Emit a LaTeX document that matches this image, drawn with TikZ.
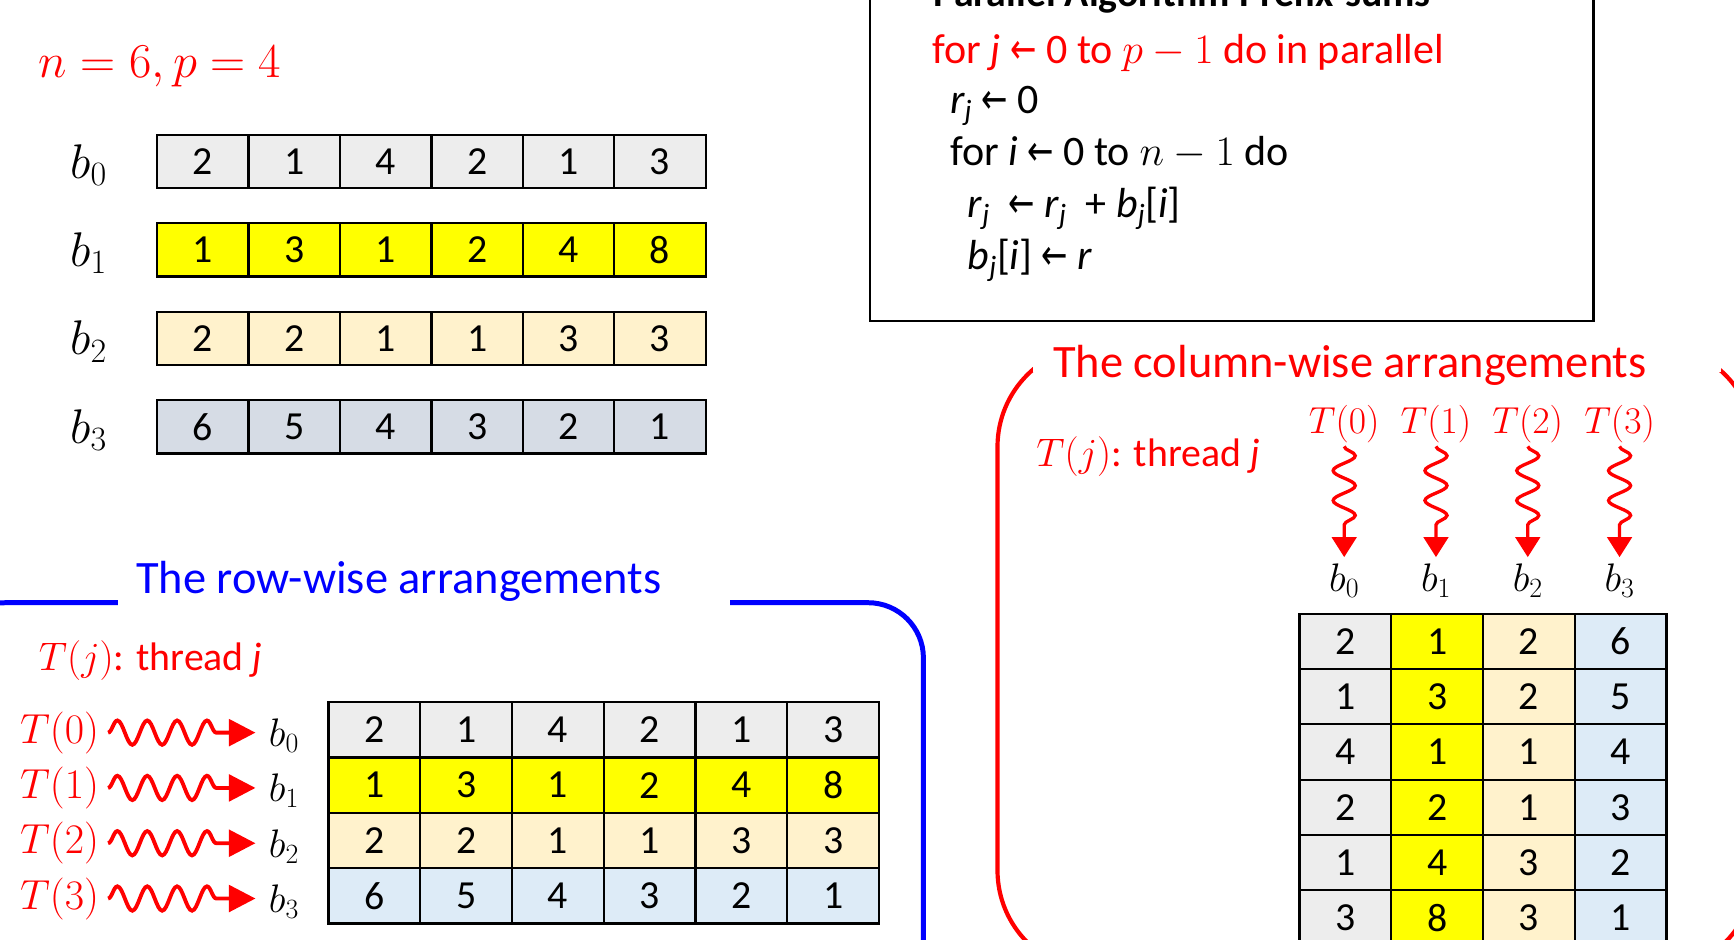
\RequirePackage{fix-cm}
\documentclass[tikz,border=0pt]{standalone}
\usepackage{graphicx}
\usepackage{fontspec}
\setmainfont{Carlito}
\newfontfamily\djv{DejaVu Sans}
\usetikzlibrary{decorations.pathmorphing,arrows.meta}
\definecolor{cgray}{HTML}{EDEDED}
\definecolor{cyel}{HTML}{FFFF00}
\definecolor{ccream}{HTML}{FFF2CC}
\definecolor{cslate}{HTML}{D6DCE5}
\definecolor{clblue}{HTML}{DDEBF7}
\definecolor{cred}{HTML}{FF0000}
\definecolor{cblue}{HTML}{0000FF}
\newcommand{\fs}[1]{\fontsize{#1}{#1}\selectfont}
\newcommand{\la}{\scalebox{0.75}[1]{\djv ←}}
\begin{document}
\begin{tikzpicture}[x=1pt,y=-1pt,
  cellA/.style={draw=black,line width=2pt,minimum width=82.7pt,minimum height=48pt,inner sep=0pt,font=\fs{36}},
  cellB/.style={draw=black,line width=2pt,minimum width=83pt,minimum height=50pt,inner sep=0pt,font=\fs{36}},
  lbl/.style={inner sep=2pt},
  wavyh/.style={draw=cred,line width=3.5pt,decorate,
    decoration={snake,amplitude=11pt,segment length=27pt,post length=22pt},
    -{Triangle[length=24pt,width=24pt]}},
  wavyv/.style={draw=cred,line width=3pt,decorate,
    decoration={snake,amplitude=10pt,segment length=27pt,post length=16pt},
    -{Triangle[length=18pt,width=22pt]}}]
\useasboundingbox (0,0) rectangle (1568,850);
\begin{scope}
\clip (0,0) rectangle (1568,850);

% ---------- top: n, p and the four arrays ----------
\node[lbl,anchor=base west,text=cred,font=\fs{44}] (np) at (33,70) {$n=6, p=4$};
\foreach \r/\vals/\col in {0/{2,1,4,2,1,3}/cgray,1/{1,3,1,2,4,8}/cyel,2/{2,2,1,1,3,3}/ccream,3/{6,5,4,3,2,1}/cslate}{
  \node[lbl,anchor=base,font=\fs{44}] (tb\r) at (80,{161+80*\r}) {$b_{\r}$};
  \foreach \v [count=\c from 0] in \vals {
    \node[cellA,fill=\col] (ta\r-\c) at ({142+82.7*(\c+0.5)},{146+80*\r}) {\v};
  }
}

% ---------- pseudo-code box ----------
\draw[line width=2pt] (787,-20) rectangle (1441,290);
\node[lbl,anchor=base west,font=\bfseries\fs{36}] (ptitle) at (842,6) {Parallel Algorithm Prefix-sums};
\node[lbl,anchor=base west,text=cred,font=\fs{38}] (p1) at (841,57) {for \textit{j} \la{} 0 to $p-1$ do in parallel};
\node[lbl,anchor=base west,font=\fs{38}] (p2) at (857,103) {\textit{r\textsubscript{j}} \la{} 0};
\node[lbl,anchor=base west,font=\fs{38}] (p3) at (857,150) {for \textit{i} \la{} 0 to $n-1$ do};
\node[lbl,anchor=base west,font=\fs{38}] (p4) at (873,197) {\textit{r\textsubscript{j}} \ \la{} \textit{r\textsubscript{j}} \ + \textit{b\textsubscript{j}}[\textit{i}]};
\node[lbl,anchor=base west,font=\fs{38}] (p5) at (873,244) {\textit{b\textsubscript{j}}[\textit{i}] \la{} \textit{r}};

% ---------- row-wise arrangement ----------
\draw[cblue,line width=4.5pt,rounded corners=50pt] (-45,545) rectangle (835,920);
\fill[white] (107,515) rectangle (660,552);
\node[lbl,anchor=base west,text=cblue,font=\fs{42}] (rtitle) at (121,537) {The row-wise arrangements};
\node[lbl,anchor=base west,text=cred,font=\fs{36}] (rthr) at (33,606) {$T(j)$: thread \textit{j}};
\foreach \r/\vals/\col in {0/{2,1,4,2,1,3}/cgray,1/{1,3,1,2,4,8}/cyel,2/{2,2,1,1,3,3}/ccream,3/{6,5,4,3,2,1}/clblue}{
  \node[anchor=base west,inner ysep=2pt,inner xsep=8pt,text=cred,font=\fs{38}] (rT\r) at (10,{672+50*\r}) {$T(\r)$};
  \node[anchor=base west,inner ysep=2pt,inner xsep=12pt,font=\fs{36}] (rb\r) at (231,{675+50*\r}) {$b_{\r}$};
  \draw[wavyh] (rT\r.east) -- (rT\r.east -| rb\r.west);
  \foreach \v [count=\c from 0] in \vals {
    \node[cellB,fill=\col] (ra\r-\c) at ({297+83*(\c+0.5)},{660+50*\r}) {\v};
  }
}

% ---------- column-wise arrangement ----------
\draw[cred,line width=3.8pt,rounded corners=92pt] (902,312) rectangle (1587,879);
\fill[white] (934,294) rectangle (1556,336);
\node[lbl,anchor=base west,text=cred,font=\fs{42}] (ctitle) at (950,341) {The column-wise arrangements};
\node[lbl,anchor=base west,text=cred,font=\fs{36}] (cthr) at (935,422) {$T(j)$: thread \textit{j}};
\foreach \j in {0,1,2,3}{
  \node[anchor=base,inner xsep=2pt,inner ysep=3pt,text=cred,font=\fs{34}] (cT\j) at ({1175+83*(\j+0.5)-1},392) {$T(\j)$};
  \node[anchor=base,inner xsep=2pt,inner ysep=6pt,font=\fs{36}] (cb\j) at ({1175+83*(\j+0.5)-1},535) {$b_{\j}$};
  \draw[wavyv] (cT\j.south) -- (cb\j.north);
}
\foreach \i/\a/\b/\c/\d in {0/2/1/2/6,1/1/3/2/5,2/4/1/1/4,3/2/2/1/3,4/1/4/3/2,5/3/8/3/1}{
  \node[cellB,fill=cgray] (cc\i-0) at ({1175+83*0.5},{580+50*\i}) {\a};
  \node[cellB,fill=cyel] (cc\i-1) at ({1175+83*1.5},{580+50*\i}) {\b};
  \node[cellB,fill=ccream] (cc\i-2) at ({1175+83*2.5},{580+50*\i}) {\c};
  \node[cellB,fill=clblue] (cc\i-3) at ({1175+83*3.5},{580+50*\i}) {\d};
}
\end{scope}
\end{tikzpicture}
\end{document}
